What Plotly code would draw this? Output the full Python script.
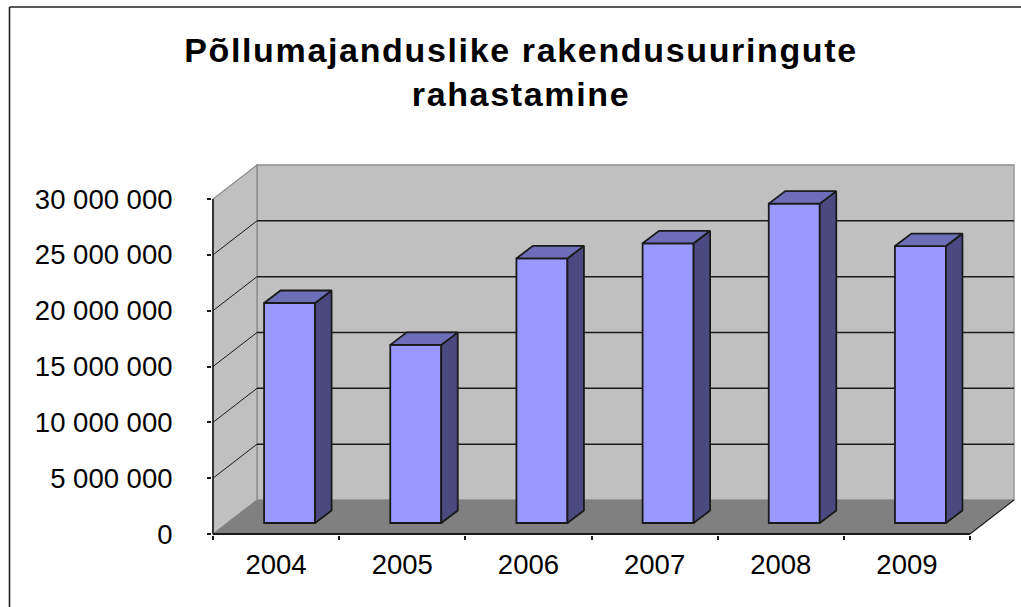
import plotly.graph_objects as go

years = ["2004", "2005", "2006", "2007", "2008", "2009"]
funding = [19700000, 15950000, 23700000, 25050000, 28600000, 24800000]
y_ticks = [0, 5000000, 10000000, 15000000, 20000000, 25000000, 30000000]
y_labels = ["0", "5 000 000", "10 000 000", "15 000 000", "20 000 000", "25 000 000", "30 000 000"]
title_text = "Põllumajanduslike rakendusuuringute<br>rahastamine"

W, H = 1021, 607
# plot-area margins and pixel scale of the axes
ML, MR, MT, MB = 212, 5, 162, 72
AX0_PX = 213          # pixel of x = -0.5
AX0_PY = 534          # pixel of y = 0
PX_PER_CAT = 126.17
PX_PER_VAL = 335 / 30000000

def cx(px):
    return px / PX_PER_CAT
def cy(px):
    return px / PX_PER_VAL

x_lo = -0.5 - cx(AX0_PX - ML)
x_hi = -0.5 + cx(W - MR - AX0_PX)
y_lo = -cy(H - MB - AX0_PY)
y_hi = cy(AX0_PY - MT)

DX, DY = cx(44), cy(34)             # wall depth
BDX, BDY = cx(16.5), cy(12.5)       # bar depth
BAR_W = cx(51)
BAR_SHIFT = cx(13.5)
BAR_BASE = cy(11)
XL, XR = -0.5, 5.5
YT = 30000000
WALL, FLOOR = "#C0C0C0", "#808080"
EDGE = "#1a1a1a"

def poly(pts, fill, line="rgba(0,0,0,0)", w=0):
    d = "M" + " L".join(f"{a},{b}" for a, b in pts) + " Z"
    return dict(type="path", path=d, xref="x", yref="y", fillcolor=fill,
                line=dict(color=line, width=w), layer="below")

def seg(x0, y0, x1, y1, color=EDGE, w=1.5, layer="below"):
    return dict(type="line", x0=x0, y0=y0, x1=x1, y1=y1, xref="x", yref="y",
                line=dict(color=color, width=w), layer=layer)

shapes = [
    poly([(XL + DX, DY), (XR + DX, DY), (XR + DX, YT + DY), (XL + DX, YT + DY)], WALL, "#8c8c8c", 1.3),
    poly([(XL, 0), (XL + DX, DY), (XL + DX, YT + DY), (XL, YT)], WALL, "#8c8c8c", 1.3),
    poly([(XL, 0), (XR, 0), (XR + DX, DY), (XL + DX, DY)], FLOOR),
]
for v in y_ticks[1:-1]:
    shapes.append(seg(XL + DX, v + DY, XR + DX, v + DY))
    shapes.append(seg(XL, v, XL + DX, v + DY, w=1))
shapes.append(seg(XL, 0, XL, YT, w=1.6))
shapes.append(seg(XL, 0, XR, 0, w=1.8))
shapes.append(seg(XR, 0, XR + DX, DY, w=1.1))

# outer chart frame (left and top only are visible in the reference)
def fx(px):
    return (px - ML) / (W - ML - MR)
def fy(px):
    return 1 - (px - MT) / (H - MT - MB)
shapes.append(dict(type="line", xref="paper", yref="paper", x0=fx(9.5), x1=fx(W), y0=fy(7), y1=fy(7),
                   line=dict(color="#222222", width=1.6)))
shapes.append(dict(type="line", xref="paper", yref="paper", x0=fx(9.5), x1=fx(9.5), y0=fy(7), y1=fy(H),
                   line=dict(color="#222222", width=1.6)))

fig = go.Figure()
pos = list(range(len(years)))
fig.add_trace(go.Bar(
    x=[p + BAR_SHIFT for p in pos], y=funding, base=BAR_BASE, width=BAR_W,
    marker=dict(color="#9999FF", line=dict(color=EDGE, width=1.8)), hoverinfo="skip",
))
for p, v in zip(pos, funding):
    x0 = p + BAR_SHIFT - BAR_W / 2
    x1 = p + BAR_SHIFT + BAR_W / 2
    b, t = BAR_BASE, BAR_BASE + v
    fig.add_trace(go.Scatter(
        x=[x1, x1 + BDX, x1 + BDX, x1, x1], y=[b, b + BDY, t + BDY, t, b],
        mode="lines", fill="toself", fillcolor="#4A4A80",
        line=dict(color=EDGE, width=1.8), hoverinfo="skip",
    ))
    fig.add_trace(go.Scatter(
        x=[x0, x1, x1 + BDX, x0 + BDX, x0], y=[t, t, t + BDY, t + BDY, t],
        mode="lines", fill="toself", fillcolor="#6E6EB8",
        line=dict(color=EDGE, width=1.8), hoverinfo="skip",
    ))

FONT = "Liberation Sans"
fig.update_layout(
    width=W, height=H, showlegend=False, barmode="overlay",
    margin=dict(l=ML, r=MR, t=MT, b=MB, pad=0),
    paper_bgcolor="white", plot_bgcolor="white",
    shapes=shapes,
    title=dict(text=title_text, x=521 / W, xanchor="center", y=1 - 62 / H, yanchor="middle",
               font=dict(family=FONT, size=34, color="#000000", weight="bold")),
    xaxis=dict(range=[x_lo, x_hi], tickvals=pos, ticktext=years, ticks="", showgrid=False,
               zeroline=False, showline=False, ticklabelstandoff=10,
               tickfont=dict(family=FONT, size=27.5, color="#000000"),
               minor=dict(tickvals=[p - 0.5 for p in pos] + [5.5], ticks="outside", ticklen=4,
                          tickcolor=EDGE, tickwidth=1.5, showgrid=False)),
    yaxis=dict(range=[y_lo, y_hi], tickvals=y_ticks, ticktext=y_labels, ticks="outside",
               ticklen=4, tickcolor=EDGE, tickwidth=1.5, showgrid=False, zeroline=False,
               showline=False, ticklabelstandoff=29,
               tickfont=dict(family=FONT, size=27.5, color="#000000")),
)
# page without the default body margin; the title in the reference is letter-spaced
post = ("document.body.style.margin='0';"
        "document.querySelectorAll('.gtitle').forEach(function(e){e.style.letterSpacing='1.65px';});")
fig.write_html("out.html", post_script=post, config={"displayModeBar": False})
